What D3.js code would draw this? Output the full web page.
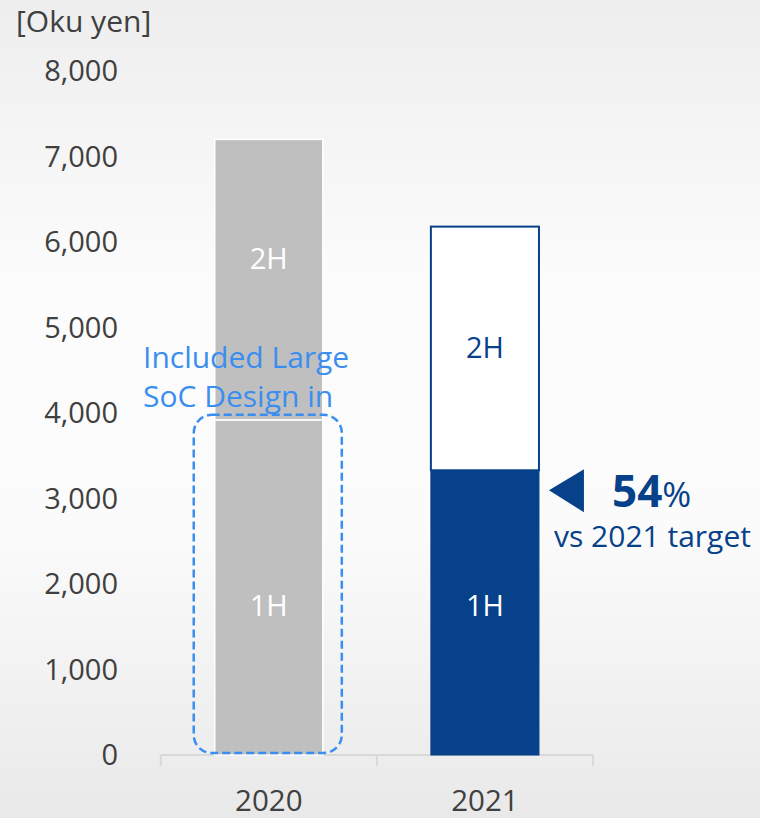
<!DOCTYPE html>
<html>
<head>
<meta charset="utf-8">
<script src="https://cdn.jsdelivr.net/npm/d3@7"></script>
<style>
  html, body { margin: 0; padding: 0; }
  body { width: 760px; height: 818px; overflow: hidden; }
  svg { display: block; font-family: "Open Sans", "Noto Sans", sans-serif; }
</style>
</head>
<body>
<script>
const categories = ["2020", "2021"];
const firstHalf = [3920, 3330];   // 1H
const secondHalf = [3280, 2850];  // 2H
const segmentLabels = ["1H", "2H"];
const firstHalfLabelAt = [1750, 1750];
const secondHalfLabelAt = [5800, 4760];
const yTicks = [0, 1000, 2000, 3000, 4000, 5000, 6000, 7000, 8000];
const unitLabel = "[Oku yen]";
const noteLines = ["Included Large", "SoC Design in"];
const progressPct = 54;
const progressText = "vs 2021 target";

const W = 760, H = 818;
const svg = d3.select("body").append("svg").attr("width", W).attr("height", H);

const defs = svg.append("defs");
const grad = defs.append("linearGradient").attr("id", "bg").attr("x1", 0).attr("y1", 0).attr("x2", 0).attr("y2", 1);
[["0%", "#eeeeee"], ["35%", "#fcfcfc"], ["65%", "#fbfbfb"], ["100%", "#e9e9e9"]]
  .forEach(([o, c]) => grad.append("stop").attr("offset", o).attr("stop-color", c));
svg.append("rect").attr("width", W).attr("height", H).attr("fill", "url(#bg)");

const x = d3.scaleBand().domain(categories).range([160.7, 593]).paddingInner(0.5).paddingOuter(0.25);
const y = d3.scaleLinear().domain([0, 8000]).range([755, 71]);

const step = x.step();
const axisLeft = x(categories[0]) - x.paddingOuter() * step;

// category axis line and ticks
const axisG = svg.append("g");
axisG.append("line").attr("x1", axisLeft).attr("x2", axisLeft + step * categories.length)
  .attr("y1", y(0)).attr("y2", y(0)).attr("stroke", "#d9d9d9").attr("stroke-width", 2);
d3.range(categories.length + 1).forEach(i => {
  const tx = axisLeft + i * step;
  axisG.append("line").attr("x1", tx).attr("x2", tx).attr("y1", y(0)).attr("y2", y(0) + 11)
    .attr("stroke", "#d9d9d9").attr("stroke-width", 2);
});
axisG.selectAll("text.cat").data(categories).enter().append("text")
  .attr("class", "cat")
  .attr("x", d => x(d) + x.bandwidth() / 2).attr("y", 811)
  .attr("text-anchor", "middle").attr("font-size", 29.5).attr("fill", "#404040")
  .text(d => d);

// y tick labels
svg.selectAll("text.ytick").data(yTicks).enter().append("text")
  .attr("class", "ytick")
  .attr("x", 118).attr("y", d => y(d)).attr("dy", "0.35em")
  .attr("text-anchor", "end").attr("font-size", 29).attr("fill", "#404040")
  .text(d => d3.format(",")(d));

svg.append("text").attr("x", 16).attr("y", 32).attr("font-size", 30).attr("fill", "#404040").text(unitLabel);

// stacked bars
const rows = categories.map((c, i) => ({ cat: c, idx: i, "1H": firstHalf[i], "2H": secondHalf[i] }));
const stack = d3.stack().keys(segmentLabels)(rows);
const labelAt = { "1H": firstHalfLabelAt, "2H": secondHalfLabelAt };

const styles = {
  "2020": {
    "1H": { fill: "#bfbfbf", stroke: "#ffffff", sw: 1.5, text: "#ffffff" },
    "2H": { fill: "#bfbfbf", stroke: "#ffffff", sw: 1.5, text: "#ffffff" }
  },
  "2021": {
    "1H": { fill: "#06418a", stroke: "#06418a", sw: 1, text: "#ffffff" },
    "2H": { fill: "#ffffff", stroke: "#06418a", sw: 2, text: "#06418a" }
  }
};

stack.forEach(layer => {
  const key = layer.key;
  layer.forEach(d => {
    const c = d.data.cat;
    const st = styles[c][key];
    const x0 = x(c), w = x.bandwidth();
    svg.append("rect")
      .attr("x", x0).attr("y", y(d[1]))
      .attr("width", w).attr("height", y(d[0]) - y(d[1]))
      .attr("fill", st.fill).attr("stroke", st.stroke).attr("stroke-width", st.sw);
    svg.append("text")
      .attr("x", x0 + w / 2).attr("y", y(labelAt[key][d.data.idx])).attr("dy", "0.35em")
      .attr("text-anchor", "middle").attr("font-size", 29).attr("fill", st.text)
      .text(key);
  });
});

// dashed highlight around 2020 1H
const hx = x("2020");
svg.append("rect")
  .attr("x", hx - 21).attr("y", y(firstHalf[0]) - 5)
  .attr("width", x.bandwidth() + 40).attr("height", y(0) - 2 - (y(firstHalf[0]) - 5))
  .attr("rx", 18).attr("ry", 18)
  .attr("fill", "none").attr("stroke", "#3a8ef0").attr("stroke-width", 2.5)
  .attr("stroke-dasharray", "8,4");

const note = svg.append("text").attr("font-size", 30).attr("fill", "#3a8ef0");
noteLines.forEach((t, i) => note.append("tspan").attr("x", 143).attr("y", 368 + i * 39).text(t));

// progress marker
const bx = x("2021") + x.bandwidth();
const py = y(firstHalf[1]) + 20;
svg.append("path")
  .attr("d", `M${bx + 10},${py} L${bx + 45},${py - 21} L${bx + 45},${py + 22} Z`)
  .attr("fill", "#06418a");
const pct = svg.append("text").attr("x", 612).attr("y", 507).attr("fill", "#06418a");
pct.append("tspan").attr("font-size", 44).attr("font-weight", "bold").text(progressPct);
pct.append("tspan").attr("font-size", 35).text("%");
svg.append("text").attr("x", 554).attr("y", 547).attr("font-size", 30).attr("fill", "#06418a").text(progressText);
</script>
</body>
</html>
